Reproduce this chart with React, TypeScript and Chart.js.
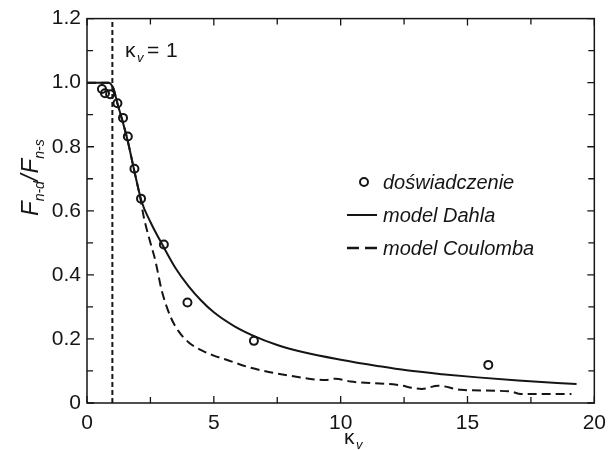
import React, { useEffect, useRef } from "react";
import { Chart, registerables } from "chart.js";

Chart.register(...registerables);

const xTickValues = [0, 5, 10, 15, 20];
const yTickValues = [0, 0.2, 0.4, 0.6, 0.8, 1.0, 1.2];

const expX = [0.59, 0.71, 0.91, 1.2, 1.42, 1.61, 1.87, 2.13, 3.03, 3.96, 6.58, 15.82];
const expY = [0.98, 0.967, 0.964, 0.936, 0.89, 0.832, 0.731, 0.638, 0.495, 0.314, 0.194, 0.119];

const dahlX = [0, 0.85, 0.95, 1.05, 1.2, 1.4, 1.6, 1.85, 2.15, 2.5, 3.0, 3.5, 4.0, 4.5, 5.0, 5.8, 6.5, 7.5, 8.5, 10, 11.5, 12.6, 14, 15.4, 17, 19.3];
const dahlY = [1.0, 1.0, 0.995, 0.98, 0.935, 0.88, 0.82, 0.73, 0.63, 0.565, 0.49, 0.42, 0.365, 0.32, 0.283, 0.24, 0.212, 0.181, 0.159, 0.135, 0.115, 0.102, 0.09, 0.08, 0.07, 0.059];

const coulX = [0, 0.85, 0.95, 1.05, 1.2, 1.4, 1.6, 1.85, 2.1, 2.24, 2.5, 2.69, 2.95, 3.3, 3.6, 4.0, 4.5, 5.0, 5.5, 6.45, 8.0, 9.4, 9.8, 10.4, 12.2, 13.2, 13.85, 14.75, 16.7, 17.1, 19.1];
const coulY = [1.0, 1.0, 0.995, 0.98, 0.935, 0.88, 0.82, 0.73, 0.64, 0.58, 0.5, 0.446, 0.35, 0.268, 0.225, 0.19, 0.165, 0.148, 0.135, 0.11, 0.085, 0.072, 0.076, 0.067, 0.057, 0.044, 0.054, 0.041, 0.036, 0.028, 0.028];

const markerLine = [1, 1];
const markerLineY = [0, 1.2];

const legendLabels = ["doświadczenie", "model Dahla", "model Coulomba"];

const INK = "#151515";
const FONT = "'Liberation Sans', Arial, sans-serif";

const zip = (xs: number[], ys: number[]) => xs.map((x, i) => ({ x, y: ys[i] }));

const decorPlugin = {
  id: "decor",
  afterDraw(chart: any) {
    const ctx = chart.ctx as CanvasRenderingContext2D;
    const { left, right, top, bottom } = chart.chartArea;
    const xs = chart.scales.x;
    const ys = chart.scales.y;
    ctx.save();
    ctx.strokeStyle = INK;
    ctx.lineWidth = 1.5;
    ctx.strokeRect(left, top, right - left, bottom - top);
    const major = 7;
    const minor = 6;
    ctx.lineWidth = 1.3;
    ctx.beginPath();
    for (let v = 0; v <= 20.001; v += 2.5) {
      const px = xs.getPixelForValue(v);
      const len = Math.abs(v % 5) < 0.01 ? major : minor;
      ctx.moveTo(px, bottom);
      ctx.lineTo(px, bottom - len);
      ctx.moveTo(px, top);
      ctx.lineTo(px, top + len);
    }
    for (let v = 0; v <= 1.2001; v += 0.1) {
      const py = ys.getPixelForValue(v);
      const k = Math.round(v * 10);
      const len = k % 2 === 0 ? major : minor;
      ctx.moveTo(left, py);
      ctx.lineTo(left + len, py);
      ctx.moveTo(right, py);
      ctx.lineTo(right - len, py);
    }
    ctx.stroke();

    ctx.fillStyle = INK;
    ctx.textBaseline = "alphabetic";
    ctx.textAlign = "left";

    // kappa_v = 1 label
    ctx.font = `21px ${FONT}`;
    ctx.fillText("κ", 125, 57);
    ctx.font = `italic 13px ${FONT}`;
    ctx.fillText("v", 137, 62);
    ctx.font = `21px ${FONT}`;
    ctx.fillText("=", 147, 57);
    ctx.fillText("1", 166, 57);

    // x title
    ctx.font = `21px ${FONT}`;
    ctx.fillText("κ", 344, 444);
    ctx.font = `italic 13px ${FONT}`;
    ctx.fillText("v", 356, 449);

    // y title
    ctx.save();
    ctx.translate(38, 216);
    ctx.rotate(-Math.PI / 2);
    let cx = 0;
    const big = `italic 24px ${FONT}`;
    const small = `italic 14px ${FONT}`;
    const parts: [string, string, number][] = [
      ["F", big, 0],
      ["n-d", small, 6],
      ["/", big, 0],
      ["F", big, 0],
      ["n-s", small, 6],
    ];
    for (const [t, f, dy] of parts) {
      ctx.font = f;
      ctx.fillText(t, cx, dy);
      cx += ctx.measureText(t).width + (t === "/" ? 1 : 0);
    }
    ctx.restore();

    // legend
    ctx.font = `italic 20px ${FONT}`;
    const tx = 383;
    const rows = [182, 215, 248];
    ctx.lineWidth = 2;
    ctx.beginPath();
    ctx.arc(364, rows[0], 4, 0, Math.PI * 2);
    ctx.stroke();
    ctx.beginPath();
    ctx.moveTo(347, rows[1]);
    ctx.lineTo(377, rows[1]);
    ctx.stroke();
    ctx.lineWidth = 2.5;
    ctx.beginPath();
    ctx.moveTo(347, rows[2]);
    ctx.lineTo(359, rows[2]);
    ctx.moveTo(365, rows[2]);
    ctx.lineTo(377, rows[2]);
    ctx.stroke();
    legendLabels.forEach((l, i) => ctx.fillText(l, tx, rows[i] + 7));
    ctx.restore();
  },
};

export default function App() {
  const ref = useRef<HTMLCanvasElement | null>(null);
  useEffect(() => {
    document.body.style.margin = "0";
    if (!ref.current) return;
    const chart = new Chart(ref.current, {
      type: "scatter",
      data: {
        datasets: [
          {
            label: legendLabels[0],
            data: zip(expX, expY),
            pointStyle: "circle",
            pointRadius: 4,
            pointBorderWidth: 2,
            pointBorderColor: INK,
            pointBackgroundColor: "rgba(0,0,0,0)",
            showLine: false,
            order: 0,
          },
          {
            label: legendLabels[1],
            data: zip(dahlX, dahlY),
            showLine: true,
            borderColor: INK,
            borderWidth: 2,
            pointRadius: 0,
            cubicInterpolationMode: "monotone",
            order: 1,
          },
          {
            label: legendLabels[2],
            data: zip(coulX, coulY),
            showLine: true,
            borderColor: INK,
            borderWidth: 2,
            borderDash: [9, 5],
            pointRadius: 0,
            cubicInterpolationMode: "monotone",
            order: 2,
          },
          {
            label: "kv=1",
            data: zip(markerLine, markerLineY),
            showLine: true,
            borderColor: INK,
            borderWidth: 2,
            borderDash: [5, 3],
            pointRadius: 0,
            order: 3,
          },
        ],
      },
      options: {
        animation: false,
        responsive: false,
        events: [],
        layout: { padding: { top: 17, right: 12, left: 0, bottom: 0 } },
        plugins: { legend: { display: false }, tooltip: { enabled: false } },
        scales: {
          x: {
            type: "linear",
            min: 0,
            max: 20,
            afterBuildTicks: (s: any) => {
              s.ticks = xTickValues.map((v) => ({ value: v }));
            },
            afterFit: (s: any) => {
              s.height = 47;
            },
            grid: { display: true, drawOnChartArea: false, drawTicks: false },
            border: { display: false },
            ticks: {
              color: INK,
              font: { family: FONT, size: 21 },
              padding: 8,
              callback: (v: any) => String(v),
            },
          },
          y: {
            type: "linear",
            min: 0,
            max: 1.2,
            afterBuildTicks: (s: any) => {
              s.ticks = yTickValues.map((v) => ({ value: v }));
            },
            afterFit: (s: any) => {
              s.width = 87;
            },
            grid: { display: true, drawOnChartArea: false, drawTicks: false },
            border: { display: false },
            ticks: {
              color: INK,
              font: { family: FONT, size: 21 },
              padding: 6,
              callback: (v: any) => (v === 0 ? "0" : Number(v).toFixed(1)),
            },
          },
        },
      },
      plugins: [decorPlugin],
    } as any);
    return () => chart.destroy();
  }, []);
  return <canvas ref={ref} width={614} height={450} style={{ display: "block" }} />;
}
